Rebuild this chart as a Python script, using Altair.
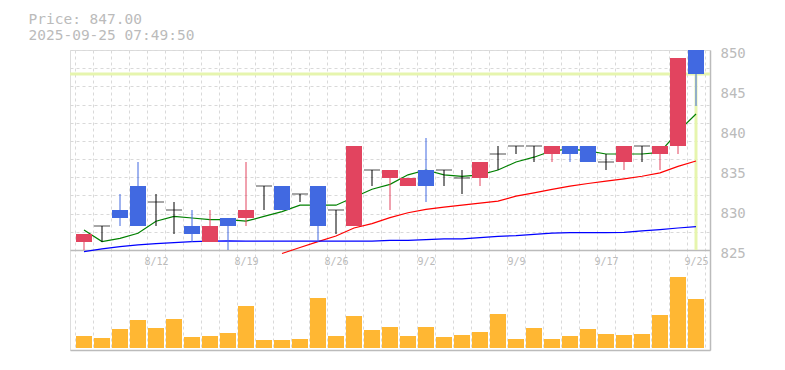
import altair as alt
import pandas as pd

# ---- data ----
dates = ['8/5', '8/6', '8/7', '8/8', '8/12', '8/13', '8/14', '8/15', '8/18', '8/19',
         '8/20', '8/21', '8/22', '8/25', '8/26', '8/27', '8/28', '8/29', '9/1', '9/2',
         '9/3', '9/4', '9/5', '9/8', '9/9', '9/10', '9/11', '9/12', '9/16', '9/17',
         '9/18', '9/19', '9/22', '9/24', '9/25']
opens = [826, 828, 830, 833, 831, 830, 828, 826, 829, 829, 833, 833, 832, 833, 830, 828, 835, 834,
         833, 835, 835, 834, 834, 837, 838, 838, 837, 838, 838, 836, 836, 838, 837, 838, 850]
highs = [827, 828, 832, 836, 832, 831, 830, 830, 829, 836, 833, 833, 832, 833, 830, 838, 835, 835,
         834, 839, 835, 835, 836, 838, 838, 838, 838, 838, 838, 837, 838, 838, 838, 849, 850]
lows = [825, 826, 828, 828, 828, 827, 826, 826, 825, 828, 830, 830, 831, 826, 827, 828, 833, 830,
        833, 831, 833, 832, 833, 835, 837, 836, 836, 836, 836, 835, 835, 836, 835, 837, 843]
closes = [827, 828, 829, 828, 831, 830, 827, 828, 828, 830, 833, 830, 832, 828, 830, 838, 835, 835,
          834, 833, 835, 834, 836, 837, 838, 838, 838, 837, 836, 836, 838, 838, 838, 849, 847]
volumes = [12, 10, 19, 28, 20, 29, 11, 12, 15, 42, 8, 8, 9, 50, 12, 32, 18, 21,
           12, 21, 11, 13, 16, 34, 9, 20, 9, 12, 19, 14, 13, 14, 33, 71, 49]
ma5 = [827.5, 826.05, 826.46, 827.09, 828.6, 829.2, 829.0, 828.8, 828.8, 828.6, 829.2, 829.8,
       830.6, 830.6, 830.6, 831.6, 832.6, 833.2, 834.4, 835.0, 834.4, 834.2, 834.4, 835.0,
       836.0, 836.6, 837.4, 837.6, 837.4, 837.0, 837.0, 837.0, 837.2, 839.8, 842.0]
ma25 = [None] * 11 + [824.56, 825.31, 826.05, 826.75, 827.75, 828.29, 829.04, 829.66, 830.07,
                      830.36, 830.61, 830.85, 831.11, 831.73, 832.15, 832.57, 832.98, 833.31,
                      833.60, 833.90, 834.22, 834.64, 835.45, 836.12]
ma75 = [824.8, 825.13, 825.43, 825.63, 825.8, 825.93, 826.05, 826.1, 826.15, 826.1, 826.1, 826.1,
        826.1, 826.1, 826.1, 826.1, 826.1, 826.2, 826.2, 826.3, 826.4, 826.4, 826.55, 826.7,
        826.8, 826.95, 827.1, 827.17, 827.17, 827.17, 827.2, 827.4, 827.55, 827.75, 827.92]
label_dates = ['8/12', '8/19', '8/26', '9/2', '9/9', '9/17', '9/25']
price_ticks = [825, 830, 835, 840, 845, 850]
grid_prices = [825, 827.27, 829.55, 831.82, 834.09, 836.36, 838.64, 840.91, 843.18,
               845.45, 847.73, 850]
current_price = 847.00
timestamp = "2025-09-25 07:49:50"

# ---- styles ----
RED = "#e2445f"
BLUE = "#4169e1"
ORANGE = "#ffb733"
YELLOW = "#e6f5ae"
AXIS = "#bbbbbb"
GRID = "#d9d9d9"
MONO = "DejaVu Sans Mono"

idx = list(range(len(dates)))
kind = ["up" if c > o else ("down" if c < o else "doji") for o, c in zip(opens, closes)]
df = pd.DataFrame({"i": idx, "date": dates, "open": opens, "high": highs, "low": lows,
                   "close": closes, "volume": volumes, "ma5": ma5, "ma25": ma25,
                   "ma75": ma75, "kind": kind})
last = pd.DataFrame({"i": [idx[-1]], "price": [current_price], "base": [price_ticks[0]]})

xs = alt.Scale(domain=[-0.5, len(dates) - 0.5], nice=False, zero=False)


def ys():
    return alt.Scale(domain=[812.5, 850], nice=False, zero=False)


color = alt.Color("kind:N", scale=alt.Scale(domain=["up", "down", "doji"],
                                            range=[RED, BLUE, "#000000"]), legend=None)
x_plain = alt.X("i:Q", scale=xs, axis=None)

label_idx = [dates.index(d) for d in label_dates]
label_expr = "[" + ",".join("'%s'" % d for d in dates) + "][datum.value]"
grid_x = [i - 0.5 for i in range(len(dates) + 1)]

# volume bars (own y scale)
vol = alt.Chart(df).mark_bar(size=16, color=ORANGE, orient="vertical").encode(
    x=alt.X("i:Q", scale=xs, axis=alt.Axis(
        orient="bottom", values=grid_x, grid=True, gridDash=[3, 3], gridColor=GRID,
        labels=False, ticks=False, domain=True, domainColor=AXIS, domainWidth=1.5,
        title=None)),
    y=alt.Y("volume:Q", scale=alt.Scale(domain=[-2, 298], nice=False, zero=False), axis=None),
    y2=alt.datum(0),
)

# current price lines
hline = alt.Chart(last).mark_rule(color=YELLOW, strokeWidth=3).encode(
    y=alt.Y("price:Q", scale=ys(), axis=alt.Axis(
        orient="left", values=grid_prices, grid=True, gridDash=[3, 3], gridColor=GRID,
        labels=False, ticks=False, domain=False, title=None)),
)
vline = alt.Chart(last).mark_rule(color=YELLOW, strokeWidth=3).encode(
    x=x_plain, y=alt.Y("base:Q", scale=ys(), axis=None), y2=alt.Y2("price:Q"))


def ma_line(field, col):
    return alt.Chart(df).mark_line(color=col, strokeWidth=1.2).encode(
        x=x_plain, y=alt.Y(field + ":Q", scale=ys(), axis=None))


wicks = alt.Chart(df).mark_rule(strokeWidth=1).encode(
    x=x_plain,
    y=alt.Y("low:Q", scale=ys(), axis=alt.Axis(
        orient="right", values=price_ticks, grid=False, ticks=False, domain=True,
        domainColor=AXIS, domainWidth=1.5, labelColor=AXIS, labelFont=MONO,
        labelFontSize=14, labelPadding=10, labelOffset=3, labelFlush=False, title=None)),
    y2="high:Q", color=color)

bodies = alt.Chart(df).transform_filter("datum.kind != 'doji'").mark_bar(
    size=16, orient="vertical").encode(
    x=alt.X("i:Q", scale=xs, axis=alt.Axis(
        orient="bottom", offset=-100, values=label_idx, labelExpr=label_expr,
        grid=False, ticks=False, domain=True, domainColor=AXIS, domainWidth=1.5,
        labelColor=AXIS, labelFont=MONO, labelFontSize=10, labelPadding=6,
        labelFlush=False, title=None)),
    y=alt.Y("open:Q", scale=ys(), axis=None), y2="close:Q", color=color)

doji = alt.Chart(df).transform_filter("datum.kind == 'doji'").mark_tick(
    size=16, thickness=1, orient="horizontal").encode(
    x=x_plain, y=alt.Y("close:Q", scale=ys(), axis=None), color=color)

chart = alt.layer(
    vol, hline, vline, ma_line("ma5", "#008000"), ma_line("ma25", "#ff0000"),
    ma_line("ma75", "#0000ff"), wicks, bodies, doji
).resolve_scale(y="independent").resolve_axis(x="independent", y="independent").properties(
    width=640, height=300,
    autosize="none",
    padding={"left": 62, "top": 42, "right": 60, "bottom": 10},
    title=alt.TitleParams(text="Price: %.2f" % current_price, subtitle=timestamp,
                          anchor="start", dx=-40, font=MONO, fontSize=14.5,
                          fontWeight="normal", color=AXIS, subtitleFont=MONO,
                          subtitleFontSize=14.5, subtitleColor=AXIS, subtitlePadding=1.5,
                          offset=3),
).configure_view(stroke=None).configure(background="white")

chart.save("out.html", embed_options={"renderer": "svg", "actions": False})
